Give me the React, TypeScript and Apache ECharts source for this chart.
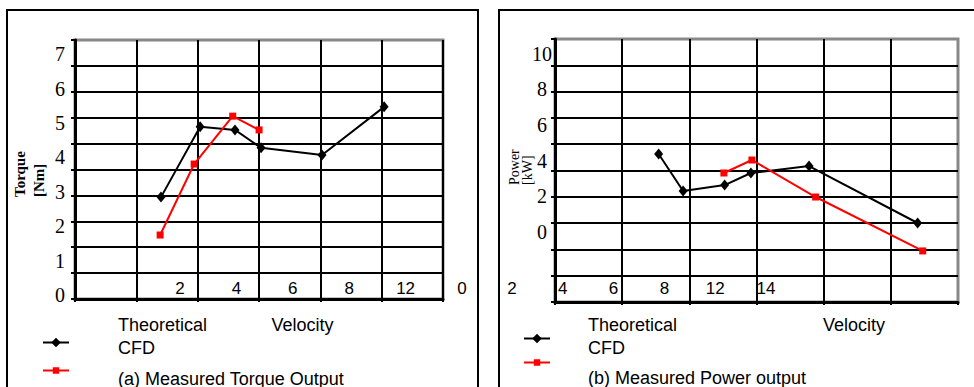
import React, { useEffect, useRef } from 'react';
import * as echarts from 'echarts';

// ---- Data ----
// (a) Torque panel
const torqueVelocityCFD = [1.34, 2.72, 3.95, 4.87, 7.02, 9.21];
const torqueCFD = [2.85, 4.89, 4.8, 4.28, 4.07, 5.47];
const torqueVelocityMeasured = [1.31, 2.51, 3.87, 4.8];
const torqueMeasured = [1.75, 3.81, 5.2, 4.8];
// (b) Power panel
const powerVelocityCFD = [7.73, 8.69, 10.32, 11.35, 13.63, 17.89];
const powerCFD = [4.37, 2.29, 2.62, 3.3, 3.69, 0.49];
const powerVelocityMeasured = [10.29, 11.39, 13.89, 18.09];
const powerMeasured = [3.3, 4.03, 1.95, -1.08];
// Tick labels as printed
const torqueXTickLabels = ['2', '4', '6', '8', '12', '0'];
const powerXTickLabels = ['2', '4', '6', '8', '12', '14'];

const zip = (xs: number[], ys: number[]) => xs.map((x, i) => [x, ys[i]]);

const SANS = 'Liberation Sans';
const SERIF = 'Liberation Serif';

function gridX(gridIndex: number, showMax: boolean, nameShift: number, nameGap: number) {
  return {
    type: 'value', gridIndex, position: 'bottom', min: 0, max: 6, interval: 1,
    name: 'Velocity', nameLocation: 'middle', nameGap,
    nameTextStyle: { fontFamily: SANS, fontSize: 18, color: '#000', padding: [0, 0, 0, nameShift] },
    axisLine: { show: true, onZero: false, lineStyle: { color: '#000', width: 3 } },
    axisTick: { show: true, length: 3, lineStyle: { color: '#000', width: 2 } },
    axisLabel: { show: false },
    splitLine: { show: true, showMaxLine: showMax, lineStyle: { color: '#000', width: 2 } },
  };
}
function gridY(gridIndex: number) {
  return {
    type: 'value', gridIndex, position: 'left', min: 0, max: 10, interval: 1,
    axisLine: { show: true, onZero: false, lineStyle: { color: '#000', width: 3 } },
    axisTick: { show: true, length: 4, lineStyle: { color: '#000', width: 2 } },
    axisLabel: { show: false },
    splitLine: { show: true, showMaxLine: false, lineStyle: { color: '#000', width: 2 } },
  };
}
function hiddenX(gridIndex: number, min: number, max: number) {
  return { type: 'value', gridIndex, position: 'bottom', min, max, show: false, splitLine: { show: false } };
}
function labelX(gridIndex: number, labels: string[]) {
  return {
    type: 'category', gridIndex, position: 'bottom', data: labels, boundaryGap: false,
    axisLine: { show: false }, axisTick: { show: false }, splitLine: { show: false },
    axisLabel: { show: true, interval: 0, margin: 0, fontFamily: SANS, fontSize: 17, color: '#000' },
  };
}
function valueY(gridIndex: number, min: number, max: number, margin: number, evenOnly: boolean) {
  return {
    type: 'value', gridIndex, position: 'left', min, max, splitNumber: 7,
    axisLine: { show: false }, axisTick: { show: false }, splitLine: { show: false },
    axisLabel: {
      show: true, margin, align: 'center', fontFamily: SERIF, fontSize: 20, color: '#000',
      formatter: (v: number) => {
        const r = Math.round(v);
        if (Math.abs(v - r) > 1e-6 || r < 0) return '';
        if (evenOnly && r % 2 !== 0) return '';
        return String(r);
      },
    },
  };
}
function dummyY(gridIndex: number) {
  return { type: 'value', gridIndex, position: 'left', show: false, min: 0, max: 1, splitLine: { show: false } };
}

const blackName = (p: string) => `Theoretical CFD ${p}`;

function cfdSeries(name: string, xi: number, yi: number, data: number[][]) {
  return {
    type: 'line', name, xAxisIndex: xi, yAxisIndex: yi, data,
    symbol: 'diamond', symbolSize: [9, 11], showAllSymbol: true,
    lineStyle: { color: '#000', width: 2 }, itemStyle: { color: '#000' },
  };
}
function measuredSeries(name: string, xi: number, yi: number, data: number[][]) {
  return {
    type: 'line', name, xAxisIndex: xi, yAxisIndex: yi, data,
    symbol: 'rect', symbolSize: 7, showAllSymbol: true,
    lineStyle: { color: '#ff0000', width: 2 }, itemStyle: { color: '#ff0000' },
  };
}

// Legend text built from rich segments; a spacer line shifts the text relative to the icon.
function legend(name: string, text: string, left: number, top: number, itemHeight: number,
  padLeft: number, spacerTop: number, spacerBottom: number) {
  const lines = text.split('\n').map((l) => `{t|${l}}`);
  const parts = [
    ...(spacerTop > 0 ? ['{a| }'] : []),
    ...lines,
    ...(spacerBottom > 0 ? ['{b| }'] : []),
  ];
  const content = parts.join('\n');
  return {
    show: true, data: [name], left, top, orient: 'vertical', padding: 0,
    itemWidth: 26, itemHeight, selectedMode: false,
    formatter: () => content,
    textStyle: {
      fontFamily: SANS, fontSize: 18, color: '#000', padding: [0, 0, 0, padLeft],
      rich: {
        t: { fontFamily: SANS, fontSize: 18, color: '#000', lineHeight: 23 },
        a: { fontSize: 1, lineHeight: spacerTop || 1 },
        b: { fontSize: 1, lineHeight: spacerBottom || 1 },
      },
    },
  };
}

const option = {
  animation: false,
  backgroundColor: '#fff',
  grid: [
    { left: 75, top: 40, width: 368, height: 259, show: true, borderColor: '#888', borderWidth: 3, backgroundColor: 'transparent' },
    { left: 180, top: 270, width: 282, height: 10 },
    { left: 555, top: 39, width: 403, height: 263, show: true, borderColor: '#888', borderWidth: 3, backgroundColor: 'transparent' },
    { left: 512, top: 270, width: 254, height: 10 },
  ],
  xAxis: [
    gridX(0, true, 87, 17),
    hiddenX(0, -1.693, 11.287),
    labelX(1, torqueXTickLabels),
    gridX(2, false, 195, 14),
    hiddenX(2, 3.664, 19.474),
    labelX(3, powerXTickLabels),
  ],
  yAxis: [
    gridY(0),
    valueY(0, -0.107, 7.41, 15, false),
    dummyY(1),
    gridY(2),
    valueY(2, -3.95, 10.83, 13, true),
    dummyY(3),
  ],
  legend: [
    legend(blackName('(torque)'), 'Theoretical\nCFD', 42, 315.5, 12, 44, 0, 13),
    legend('(a) Measured Torque Output', '(a) Measured Torque Output', 42, 358.5, 8, 44, 16, 0),
    legend(blackName('(power)'), 'Theoretical\nCFD', 523, 315.5, 12, 33, 0, 5),
    legend('(b) Measured Power output', '(b) Measured Power output', 523, 350.5, 8, 33, 30, 0),
  ],
  series: [
    cfdSeries(blackName('(torque)'), 1, 1, zip(torqueVelocityCFD, torqueCFD)),
    measuredSeries('(a) Measured Torque Output', 1, 1, zip(torqueVelocityMeasured, torqueMeasured)),
    cfdSeries(blackName('(power)'), 4, 4, zip(powerVelocityCFD, powerCFD)),
    measuredSeries('(b) Measured Power output', 4, 4, zip(powerVelocityMeasured, powerMeasured)),
  ],
  graphic: [
    { type: 'rect', shape: { x: 7, y: 10, width: 471, height: 420 }, style: { fill: 'none', stroke: '#000', lineWidth: 2 }, silent: true, z: -1 },
    { type: 'rect', shape: { x: 499, y: 10, width: 520, height: 420 }, style: { fill: 'none', stroke: '#000', lineWidth: 2 }, silent: true, z: -1 },
    {
      type: 'text', x: 29.5, y: 197, rotation: Math.PI / 2,
      style: { text: 'Torque\n[Nm]', fontFamily: SERIF, fontWeight: 'bold', fontSize: 15, lineHeight: 19, fill: '#000', align: 'left', verticalAlign: 'middle' },
    },
    {
      type: 'text', x: 521, y: 185, rotation: Math.PI / 2,
      style: { text: 'Power\n[kW]', fontFamily: SERIF, fontSize: 14, lineHeight: 13, fill: '#000', align: 'left', verticalAlign: 'middle' },
    },
  ],
};

export default function App() {
  const ref = useRef<HTMLDivElement>(null);
  useEffect(() => {
    const chart = echarts.init(ref.current!, null, { renderer: 'svg' });
    chart.setOption(option as any);
    return () => chart.dispose();
  }, []);
  return (
    <div
      ref={ref}
      style={{ position: 'fixed', left: 0, top: 0, width: 974, height: 387, background: '#fff' }}
    />
  );
}
